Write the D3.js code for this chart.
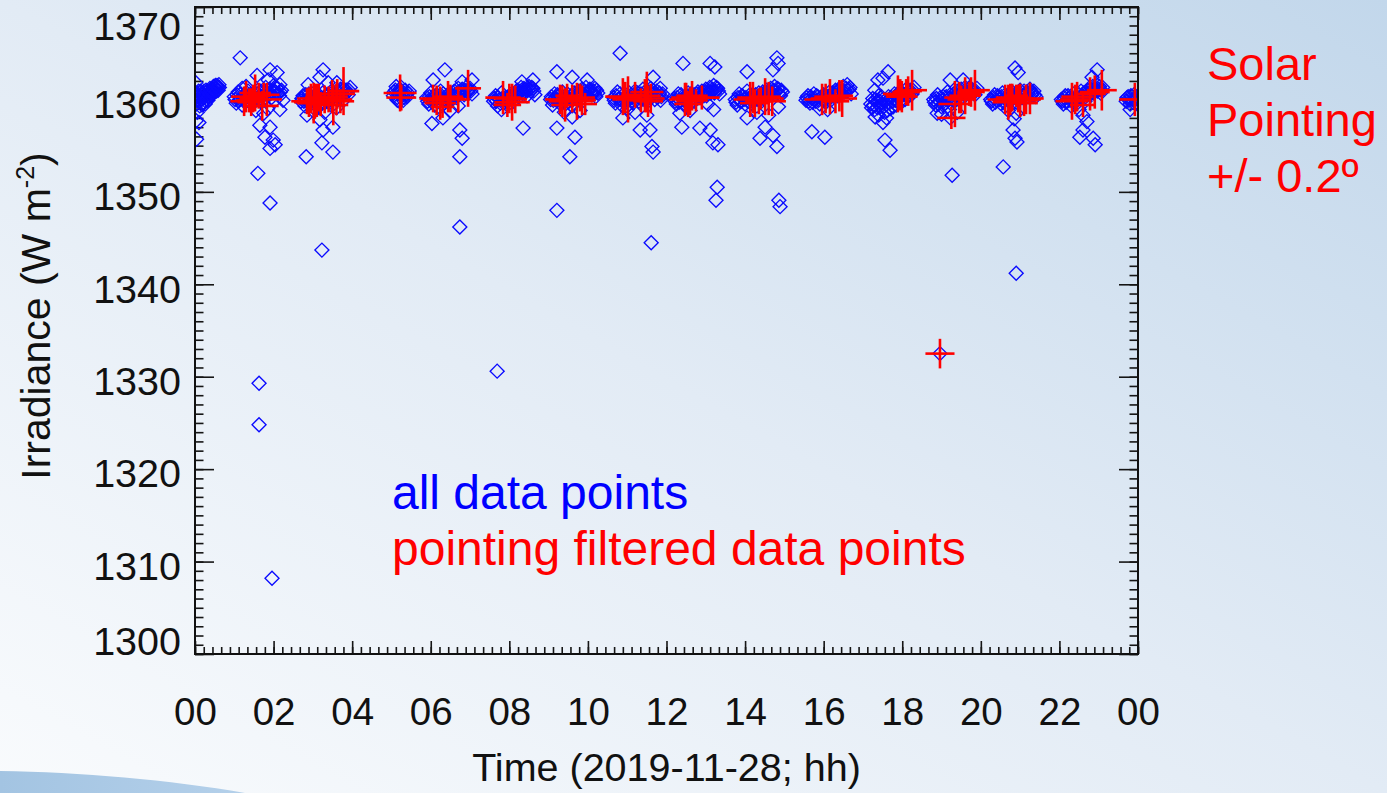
<!DOCTYPE html>
<html>
<head>
<meta charset="utf-8">
<script src="https://cdn.jsdelivr.net/npm/d3@7"></script>
<style>
  html, body { margin: 0; padding: 0; overflow: hidden; background: #eef3f9; }
  svg { display: block; }
  text { font-family: "Liberation Sans", Arial, Helvetica, sans-serif; }
</style>
</head>
<body>
<svg id="chart" width="1387" height="793"></svg>
<script>
// ---- axis ticks ----
const hourTicks = [0, 2, 4, 6, 8, 10, 12, 14, 16, 18, 20, 22, 24];
const hourTickLabels = ["00", "02", "04", "06", "08", "10", "12", "14", "16", "18", "20", "22", "00"];
const irradianceTicks = [1300, 1310, 1320, 1330, 1340, 1350, 1360, 1370];

// ---- all radiometer samples: [hour of day, irradiance W m-2] ----
const allPoints = [
  // 00:00 pass
  [0.01,1360.2],[0.03,1359.5],[0.05,1360.7],[0.07,1359.9],[0.10,1360.4],[0.12,1359.3],[0.14,1360.9],[0.17,1360.0],
  [0.19,1359.6],[0.21,1360.6],[0.24,1360.2],[0.26,1359.5],[0.28,1361.0],[0.31,1360.5],[0.33,1359.9],[0.36,1360.8],
  [0.38,1361.2],[0.41,1360.4],[0.44,1361.0],[0.47,1361.4],[0.50,1360.8],[0.53,1361.2],[0.56,1361.5],[0.59,1361.0],
  [0.62,1361.3],[0.02,1361.8],[0.06,1358.6],[0.03,1357.7],[0.10,1357.5],[0.04,1355.7],
  [0.02,1360.6],[0.04,1359.9],[0.06,1360.3],[0.09,1360.9],[0.11,1359.8],[0.13,1360.2],[0.16,1360.6],[0.18,1359.4],
  [0.20,1360.3],[0.23,1360.9],[0.25,1359.9],[0.27,1360.4],[0.30,1360.0],[0.32,1360.9],[0.35,1360.3],[0.37,1360.6],
  [0.40,1361.0],[0.43,1360.7],[0.46,1361.1],[0.49,1361.0],[0.52,1361.5],[0.55,1360.9],[0.58,1361.3],[0.61,1361.6],
  // 01:00 pass
  [1.00,1360.3],[1.05,1359.6],[1.10,1360.8],[1.15,1360.0],[1.20,1359.4],[1.25,1360.5],[1.30,1359.8],[1.35,1360.9],
  [1.40,1360.2],[1.45,1359.5],[1.50,1360.6],[1.55,1360.0],[1.60,1361.0],[1.65,1360.4],[1.70,1359.8],[1.75,1360.8],
  [1.80,1361.3],[1.85,1360.5],[1.90,1361.1],[1.95,1360.2],[2.00,1361.5],[2.05,1360.8],[2.10,1361.2],[2.15,1360.4],
  [2.20,1361.0],[1.30,1361.4],[1.55,1358.8],[1.75,1358.5],[1.85,1359.0],
  [1.02,1360.0],[1.07,1360.5],[1.12,1359.9],[1.17,1360.6],[1.22,1360.1],[1.27,1359.7],[1.32,1360.4],[1.37,1359.9],
  [1.42,1360.6],[1.47,1360.1],[1.52,1359.8],[1.57,1360.6],[1.62,1360.0],[1.67,1360.9],[1.72,1360.3],[1.77,1360.1],
  [1.82,1360.8],[1.87,1360.9],[1.92,1360.6],[1.97,1360.9],[2.02,1360.9],[2.07,1361.3],[2.12,1360.7],[2.17,1360.8],
  [1.15,1364.5],[1.58,1362.6],[1.91,1363.2],[2.09,1362.9],[2.16,1361.6],[1.20,1361.2],[1.86,1362.1],[2.24,1359.9],
  [2.16,1358.9],[1.65,1357.2],[1.91,1357.0],[1.78,1355.9],[1.99,1355.6],[1.91,1354.7],[2.04,1355.1],[1.60,1352.0],
  [1.63,1329.3],[1.63,1324.8],[1.91,1348.8],[1.96,1308.2],
  // 03:00 pass
  [2.70,1359.8],[2.75,1360.4],[2.80,1359.3],[2.85,1360.0],[2.90,1360.6],[2.95,1359.5],[3.00,1360.2],[3.05,1359.7],
  [3.10,1360.5],[3.15,1359.2],[3.20,1360.0],[3.25,1360.7],[3.30,1359.6],[3.35,1360.3],[3.40,1359.9],[3.45,1360.8],
  [3.50,1360.2],[3.55,1359.6],[3.60,1360.9],[3.65,1360.4],[3.70,1361.1],[3.75,1360.6],[3.80,1360.0],[3.85,1361.0],
  [3.90,1360.5],[3.95,1361.3],[3.00,1358.8],[3.30,1358.6],[3.60,1359.1],
  [2.72,1360.1],[2.77,1359.8],[2.82,1360.5],[2.87,1359.7],[2.92,1360.2],[2.97,1360.0],[3.02,1359.9],[3.07,1360.3],
  [3.12,1359.8],[3.17,1360.4],[3.22,1359.6],[3.27,1360.1],[3.32,1360.4],[3.37,1359.8],[3.42,1360.3],[3.47,1360.0],
  [3.52,1360.6],[3.57,1360.1],[3.62,1360.4],[3.67,1360.8],[3.72,1360.4],[3.77,1361.0],[3.82,1360.6],[3.87,1360.8],
  [3.92,1361.0],
  [3.26,1363.2],[3.18,1362.4],[2.88,1361.6],[3.39,1361.8],[3.61,1361.8],[3.77,1361.2],[2.85,1358.3],[3.18,1357.8],
  [3.26,1356.7],[3.23,1355.3],[3.51,1357.0],[3.51,1354.3],[2.83,1353.8],[3.23,1343.7],
  // 05:00 pass
  [5.05,1360.4],[5.10,1361.0],[5.15,1360.2],[5.20,1360.8],[5.25,1361.3],[5.30,1360.5],[5.35,1361.0],[5.40,1360.3],
  [5.45,1360.9],[5.20,1359.8],[5.30,1359.9],[5.12,1361.4],
  [5.07,1360.8],[5.17,1360.6],[5.22,1361.1],[5.27,1360.7],[5.32,1360.2],[5.37,1360.6],[5.42,1360.7],[5.15,1359.9],
  // 06:00 pass
  [5.90,1360.2],[5.95,1359.5],[6.00,1360.7],[6.05,1360.0],[6.10,1359.4],[6.15,1360.5],[6.20,1359.9],[6.25,1360.9],
  [6.30,1360.3],[6.35,1359.6],[6.40,1360.1],[6.45,1360.6],[6.50,1359.8],[6.55,1360.4],[6.60,1360.9],[6.65,1360.2],
  [6.70,1361.2],[6.75,1360.7],[6.80,1361.1],[6.85,1360.5],[6.90,1361.3],[6.95,1360.8],[7.00,1361.2],[7.05,1360.6],
  [6.50,1358.8],[6.70,1359.3],
  [5.92,1359.8],[5.97,1360.3],[6.02,1360.0],[6.07,1360.4],[6.12,1360.0],[6.17,1360.1],[6.22,1360.4],[6.27,1360.0],
  [6.32,1360.6],[6.37,1360.0],[6.42,1360.4],[6.47,1360.1],[6.52,1360.2],[6.57,1360.7],[6.62,1360.5],[6.67,1360.7],
  [6.72,1360.8],[6.77,1361.0],[6.82,1360.8],[6.87,1361.0],[6.92,1360.9],[6.97,1361.1],[7.02,1360.9],
  [6.36,1363.2],[6.06,1362.1],[6.80,1361.9],[7.05,1362.1],[6.03,1357.4],[6.31,1358.0],[6.74,1356.7],[6.80,1355.8],
  [6.74,1353.8],[6.18,1359.2],[6.74,1346.2],
  // 08:00 pass
  [7.60,1359.8],[7.65,1360.4],[7.70,1359.3],[7.75,1360.0],[7.80,1360.7],[7.85,1359.6],[7.90,1360.2],[7.95,1359.4],
  [8.00,1360.0],[8.05,1360.6],[8.10,1359.8],[8.15,1360.5],[8.20,1361.0],[8.25,1360.3],[8.30,1361.3],[8.35,1360.7],
  [8.40,1361.1],[8.45,1360.4],[8.50,1361.4],[8.55,1360.9],[8.60,1361.2],[8.65,1360.5],[7.80,1358.9],
  [7.62,1360.1],[7.67,1359.8],[7.72,1360.2],[7.77,1359.6],[7.82,1360.1],[7.87,1360.0],[7.92,1359.8],[7.97,1360.3],
  [8.02,1360.3],[8.07,1360.1],[8.12,1360.4],[8.17,1360.8],[8.22,1360.7],[8.27,1360.9],[8.32,1361.0],[8.37,1361.2],
  [8.42,1360.8],[8.47,1361.0],[8.52,1361.1],[8.57,1361.3],[8.62,1360.9],
  [8.35,1356.9],[8.32,1361.9],[8.60,1362.1],[7.69,1330.6],
  // 09:00 pass
  [9.05,1360.0],[9.10,1359.4],[9.15,1360.6],[9.20,1359.9],[9.25,1360.3],[9.30,1359.5],[9.35,1360.8],[9.40,1360.1],
  [9.45,1359.6],[9.50,1360.5],[9.55,1360.0],[9.60,1359.3],[9.65,1360.7],[9.70,1360.2],[9.75,1360.9],[9.80,1360.4],
  [9.85,1361.1],[9.90,1360.6],[9.95,1361.3],[10.00,1360.8],[10.05,1361.1],[10.10,1360.5],[10.15,1360.9],[10.20,1360.3],
  [10.25,1360.7],[9.40,1358.6],[9.60,1358.1],[9.80,1358.8],
  [9.07,1360.3],[9.12,1359.9],[9.17,1360.2],[9.22,1360.5],[9.27,1359.9],[9.32,1360.2],[9.37,1359.7],[9.42,1360.4],
  [9.47,1360.1],[9.52,1359.8],[9.57,1360.4],[9.62,1360.0],[9.67,1360.3],[9.72,1360.6],[9.77,1360.3],[9.82,1360.8],
  [9.87,1360.5],[9.92,1360.9],[9.97,1360.6],[10.02,1361.0],[10.07,1360.8],[10.12,1360.7],[10.17,1360.6],[10.22,1361.0],
  [9.21,1363.0],[9.60,1362.4],[9.98,1362.1],[9.21,1356.9],[9.67,1355.9],[9.54,1353.8],[10.18,1361.2],[9.21,1348.0],
  // 11:00 pass
  [10.65,1360.2],[10.70,1359.6],[10.75,1360.8],[10.80,1360.1],[10.85,1359.4],[10.90,1360.5],[10.95,1360.0],[11.00,1359.3],
  [11.05,1360.7],[11.10,1360.2],[11.15,1359.6],[11.20,1360.9],[11.25,1360.4],[11.30,1359.8],[11.35,1360.6],[11.40,1361.1],
  [11.45,1360.3],[11.50,1359.7],[11.55,1360.8],[11.60,1361.2],[11.65,1360.5],[11.70,1360.0],[11.75,1360.9],[11.80,1360.4],
  [11.85,1359.9],[11.90,1360.6],[11.20,1358.6],[11.50,1358.3],[11.00,1358.9],
  [10.67,1359.9],[10.72,1360.4],[10.77,1360.0],[10.82,1360.6],[10.87,1359.9],[10.92,1360.2],[10.97,1359.7],[11.02,1360.1],
  [11.07,1360.3],[11.12,1359.9],[11.17,1360.5],[11.22,1360.1],[11.27,1360.7],[11.32,1360.2],[11.37,1360.0],[11.42,1360.7],
  [11.47,1360.0],[11.52,1360.4],[11.57,1360.2],[11.62,1360.8],[11.67,1360.9],[11.72,1360.5],[11.77,1360.2],[11.82,1360.7],
  [11.87,1360.3],
  [10.82,1365.0],[11.66,1362.4],[11.84,1361.2],[10.89,1358.0],[11.33,1356.7],[11.58,1356.7],[11.63,1354.9],[11.66,1354.3],
  [11.61,1344.5],
  // 12:30 pass
  [12.20,1360.1],[12.25,1359.5],[12.30,1360.6],[12.35,1359.9],[12.40,1360.3],[12.45,1359.4],[12.50,1360.0],[12.55,1360.7],
  [12.60,1360.2],[12.65,1359.7],[12.70,1360.5],[12.75,1360.0],[12.80,1360.8],[12.85,1360.3],[12.90,1360.9],[12.95,1360.4],
  [13.00,1361.1],[13.05,1360.6],[13.10,1361.3],[13.15,1360.8],[13.20,1361.5],[13.25,1360.9],[13.30,1361.2],[13.35,1360.6],
  [13.05,1359.5],[13.20,1358.9],[12.60,1358.8],
  [12.22,1359.8],[12.27,1360.2],[12.32,1359.7],[12.37,1360.5],[12.42,1360.0],[12.47,1359.8],[12.52,1360.4],[12.57,1360.1],
  [12.62,1360.6],[12.67,1360.2],[12.72,1360.1],[12.77,1360.6],[12.82,1360.2],[12.87,1360.7],[12.92,1360.5],[12.97,1360.8],
  [13.02,1360.4],[13.07,1360.9],[13.12,1360.7],[13.17,1361.1],[13.22,1360.7],[13.27,1361.3],[13.32,1360.9],
  [12.42,1363.9],[13.11,1363.9],[13.23,1363.5],[12.34,1358.5],[12.39,1357.0],[12.85,1356.9],[13.11,1356.7],[13.18,1355.3],
  [13.31,1355.1],[13.29,1350.5],[13.26,1349.1],
  // 14:00 pass
  [13.75,1360.0],[13.80,1359.4],[13.85,1360.6],[13.90,1359.8],[13.95,1360.3],[14.00,1359.5],[14.05,1360.9],[14.10,1360.1],
  [14.15,1359.6],[14.20,1360.5],[14.25,1360.0],[14.30,1359.3],[14.35,1360.7],[14.40,1360.2],[14.45,1360.8],[14.50,1360.3],
  [14.55,1361.0],[14.60,1360.5],[14.65,1361.2],[14.70,1360.7],[14.75,1361.4],[14.80,1360.9],[14.85,1361.1],[14.90,1360.4],
  [14.95,1360.8],[14.30,1358.6],[14.60,1358.3],[14.85,1359.2],
  [13.77,1359.7],[13.82,1360.2],[13.87,1359.8],[13.92,1360.4],[13.97,1360.0],[14.02,1360.2],[14.07,1359.8],[14.12,1360.5],
  [14.17,1360.2],[14.22,1359.8],[14.27,1360.5],[14.32,1360.1],[14.37,1360.0],[14.42,1360.6],[14.47,1360.1],[14.52,1360.7],
  [14.57,1360.4],[14.62,1360.9],[14.67,1360.5],[14.72,1361.0],[14.77,1360.8],[14.82,1361.2],[14.87,1360.6],[14.92,1361.0],
  [14.05,1363.0],[14.81,1364.5],[14.84,1363.9],[14.71,1363.2],[14.05,1358.0],[14.38,1355.8],[14.71,1356.1],[14.81,1354.9],
  [14.51,1357.0],[14.86,1349.1],[14.89,1348.4],
  // 16:00 pass
  [15.55,1359.9],[15.60,1360.4],[15.65,1359.6],[15.70,1360.1],[15.75,1360.6],[15.80,1359.8],[15.85,1360.3],[15.90,1359.5],
  [15.95,1360.0],[16.00,1360.5],[16.05,1359.7],[16.10,1360.2],[16.15,1360.8],[16.20,1360.0],[16.25,1360.6],[16.30,1361.0],
  [16.35,1360.4],[16.40,1361.2],[16.45,1360.7],[16.50,1361.4],[16.55,1360.9],[16.60,1361.6],[16.65,1361.1],[16.70,1360.6],
  [15.90,1359.0],[16.10,1358.9],
  [15.57,1360.2],[15.62,1359.8],[15.67,1360.3],[15.72,1359.7],[15.77,1360.1],[15.82,1360.4],[15.87,1359.9],[15.92,1360.2],
  [15.97,1360.4],[16.02,1360.1],[16.07,1360.4],[16.12,1360.0],[16.17,1360.4],[16.22,1360.7],[16.27,1360.3],[16.32,1360.7],
  [16.37,1360.9],[16.42,1360.5],[16.47,1361.0],[16.52,1360.8],[16.57,1361.2],[16.62,1361.0],[16.67,1361.3],
  [15.70,1356.5],[16.03,1355.9],
  // 17:30 pass
  [17.20,1359.5],[17.25,1360.1],[17.30,1358.9],[17.35,1359.7],[17.40,1360.4],[17.45,1359.2],[17.50,1360.0],[17.55,1358.6],
  [17.60,1359.5],[17.65,1360.3],[17.70,1359.0],[17.75,1359.8],[17.80,1360.6],[17.85,1359.4],[17.90,1360.2],[17.95,1360.9],
  [18.00,1359.8],[18.05,1360.5],[18.10,1361.1],[18.15,1360.4],[18.20,1361.0],[18.25,1360.6],[18.30,1361.3],[17.40,1358.3],
  [17.60,1358.0],[17.30,1361.0],
  [17.22,1359.1],[17.27,1359.4],[17.32,1360.0],[17.37,1359.1],[17.42,1359.8],[17.47,1360.3],[17.52,1359.2],[17.57,1359.9],
  [17.62,1358.8],[17.67,1359.6],[17.72,1360.2],[17.77,1359.2],[17.82,1359.9],[17.87,1360.5],[17.92,1359.7],[17.97,1360.3],
  [18.02,1360.6],[18.07,1360.0],[18.12,1360.7],[18.17,1360.9],[18.22,1360.5],[18.27,1361.0],
  [17.38,1362.1],[17.64,1363.0],[17.51,1362.3],[17.31,1358.1],[17.56,1355.6],[17.69,1354.5],[17.51,1357.5],
  // 19:00 pass
  [18.80,1360.0],[18.85,1359.4],[18.90,1360.5],[18.95,1359.8],[19.00,1359.2],[19.05,1360.3],[19.10,1359.6],[19.15,1360.8],
  [19.20,1360.1],[19.25,1359.5],[19.30,1360.6],[19.35,1360.0],[19.40,1360.9],[19.45,1360.4],[19.50,1361.1],[19.55,1360.6],
  [19.60,1361.3],[19.65,1360.8],[19.70,1361.2],[19.75,1360.7],[19.80,1361.0],[19.85,1360.5],[19.90,1361.2],[19.20,1358.9],
  [19.40,1358.6],[19.00,1358.4],
  [18.82,1359.7],[18.87,1360.1],[18.92,1359.5],[18.97,1360.2],[19.02,1359.9],[19.07,1359.5],[19.12,1360.3],[19.17,1360.0],
  [19.22,1360.5],[19.27,1360.0],[19.32,1359.8],[19.37,1360.5],[19.42,1360.2],[19.47,1360.7],[19.52,1360.3],[19.57,1360.9],
  [19.62,1360.5],[19.67,1361.0],[19.72,1360.8],[19.77,1361.1],[19.82,1360.8],[19.87,1360.9],
  [19.22,1362.1],[19.55,1362.1],[18.89,1358.5],[19.22,1358.0],[18.96,1332.5],[19.27,1351.8],
  // 20:30 pass
  [20.25,1360.0],[20.30,1359.5],[20.35,1360.5],[20.40,1359.9],[20.45,1360.3],[20.50,1359.6],[20.55,1360.7],[20.60,1360.1],
  [20.65,1359.4],[20.70,1360.5],[20.75,1360.0],[20.80,1360.8],[20.85,1360.3],[20.90,1359.7],[20.95,1360.6],[21.00,1361.0],
  [21.05,1360.4],[21.10,1360.9],[21.15,1360.2],[21.20,1360.7],[21.25,1361.1],[21.30,1360.5],[21.35,1360.9],[21.40,1360.3],
  [20.70,1358.8],[20.90,1358.5],[20.85,1357.9],
  [20.27,1359.8],[20.32,1360.2],[20.37,1359.7],[20.42,1360.4],[20.47,1360.0],[20.52,1360.3],[20.57,1359.9],[20.62,1360.5],
  [20.67,1360.0],[20.72,1359.8],[20.77,1360.5],[20.82,1360.1],[20.87,1360.6],[20.92,1360.2],[20.97,1360.0],[21.02,1360.6],
  [21.07,1360.2],[21.12,1360.5],[21.17,1360.8],[21.22,1360.3],[21.27,1360.8],[21.32,1360.7],[21.37,1360.5],
  [20.87,1363.4],[20.95,1362.9],[20.82,1356.7],[20.87,1355.8],[20.92,1355.4],[20.57,1352.7],[20.90,1341.2],
  // 22:00 pass
  [22.05,1360.0],[22.10,1359.5],[22.15,1360.4],[22.20,1359.8],[22.25,1360.2],[22.30,1359.3],[22.35,1360.6],[22.40,1360.0],
  [22.45,1359.6],[22.50,1360.5],[22.55,1360.9],[22.60,1360.3],[22.65,1359.8],[22.70,1360.7],[22.75,1361.2],[22.80,1360.6],
  [22.85,1361.4],[22.90,1360.9],[22.95,1361.6],[23.00,1361.1],[23.05,1360.7],[23.10,1361.3],[22.50,1358.9],[22.60,1358.3],
  [22.70,1357.6],
  [22.07,1359.8],[22.12,1360.2],[22.17,1359.7],[22.22,1360.4],[22.27,1359.9],[22.32,1360.1],[22.37,1359.7],[22.42,1360.3],
  [22.47,1360.0],[22.52,1360.1],[22.57,1360.4],[22.62,1360.7],[22.67,1360.3],[22.72,1361.0],[22.77,1360.5],[22.82,1361.0],
  [22.87,1360.7],[22.92,1361.2],[22.97,1360.9],[23.02,1361.4],[23.07,1361.0],
  [22.96,1363.2],[22.83,1362.4],[22.52,1355.9],[22.86,1355.8],[22.91,1355.1],[22.60,1356.7],
  // 23:40 pass
  [23.70,1359.8],[23.75,1360.3],[23.80,1359.5],[23.85,1360.0],[23.90,1360.5],[23.95,1359.7],[24.00,1360.2],[23.80,1358.9],
  [23.72,1360.2],[23.77,1359.9],[23.82,1360.4],[23.87,1359.7],[23.92,1360.1],[23.97,1360.3]
];

// ---- samples kept by the +/- 0.2 deg pointing filter:
//      [hour, irradiance, hour half-span, irradiance half-span] ----
const filteredPoints = [
  [1.30,1360.3,0.38,1.7],[1.43,1359.7,0.35,1.5],[1.53,1360.7,0.40,2.0],[1.71,1359.3,0.42,1.6],[1.83,1360.0,0.38,1.8],
  [1.62,1360.4,0.30,1.4],[1.38,1359.9,0.33,1.3],[1.48,1360.1,0.35,1.5],[1.75,1360.5,0.40,1.3],[1.25,1359.8,0.35,1.6],
  [2.85,1359.8,0.40,1.4],[2.95,1360.1,0.35,1.6],[3.02,1359.6,0.42,2.2],[3.10,1359.9,0.30,1.8],[3.20,1359.5,0.35,1.3],
  [3.30,1360.0,0.30,1.5],[3.49,1360.3,0.40,1.8],[3.52,1359.4,0.38,2.2],[3.62,1360.6,0.45,1.6],[3.78,1360.9,0.40,2.6],
  [3.70,1359.8,0.35,1.3],[2.90,1359.7,0.38,1.6],[3.05,1359.8,0.40,1.9],[3.15,1360.2,0.35,1.5],[3.40,1360.0,0.30,1.4],
  [3.60,1360.0,0.40,1.7],
  [5.22,1360.7,0.42,2.0],[5.25,1360.2,0.38,1.4],
  [6.06,1360.1,0.35,1.5],[6.24,1359.6,0.40,1.8],[6.44,1360.3,0.38,1.7],[6.30,1359.2,0.30,1.2],[6.95,1361.2,0.33,2.0],
  [6.70,1360.0,0.30,1.4],[6.15,1359.9,0.35,1.6],[6.50,1360.1,0.35,1.5],
  [7.84,1360.2,0.45,1.8],[8.07,1359.7,0.45,2.0],[7.95,1359.4,0.35,1.3],[8.15,1360.0,0.30,1.5],[8.00,1360.1,0.40,1.6],
  [9.29,1360.0,0.38,1.6],[9.42,1359.4,0.35,1.8],[9.47,1360.4,0.30,1.3],[9.72,1359.8,0.42,2.0],[9.80,1360.2,0.38,1.5],
  [9.93,1359.5,0.30,1.2],[9.35,1359.8,0.35,1.7],[9.60,1360.1,0.40,1.5],[9.85,1359.9,0.35,1.6],
  [10.89,1360.3,0.45,2.0],[11.02,1360.0,0.40,2.5],[11.50,1360.8,0.42,2.2],[11.53,1359.8,0.38,1.7],[11.20,1360.5,0.35,1.4],
  [11.35,1359.9,0.30,1.3],[10.95,1360.2,0.40,1.7],[11.45,1360.4,0.40,1.8],[11.60,1360.1,0.35,1.6],
  [12.47,1360.0,0.40,1.8],[12.55,1359.5,0.35,1.4],[12.65,1360.4,0.40,1.6],[12.90,1360.2,0.45,1.3],[12.75,1359.9,0.30,1.2],
  [12.50,1360.2,0.38,1.6],[12.60,1359.8,0.35,1.5],
  [14.13,1360.0,0.42,1.9],[14.25,1359.6,0.38,1.5],[14.51,1360.3,0.40,2.0],[14.69,1359.8,0.35,1.6],[14.40,1360.1,0.30,1.2],
  [14.20,1360.2,0.40,1.7],[14.60,1360.1,0.38,1.8],[14.35,1359.8,0.35,1.4],
  [15.96,1360.0,0.45,1.7],[16.16,1360.3,0.40,1.9],[16.47,1360.1,0.38,2.0],[16.30,1359.8,0.35,1.3],[16.05,1360.1,0.38,1.6],
  [16.40,1360.4,0.35,1.7],
  [17.89,1360.6,0.38,2.0],[17.99,1360.3,0.40,1.7],[18.25,1361.0,0.38,2.2],[18.10,1360.8,0.35,1.4],[17.95,1360.5,0.38,1.7],
  [18.15,1360.9,0.35,1.6],
  [19.34,1359.5,0.42,2.5],[19.60,1360.4,0.40,2.0],[19.85,1361.0,0.38,2.2],[19.25,1358.0,0.36,1.2],[19.50,1360.0,0.35,1.5],
  [19.70,1360.6,0.30,1.3],[19.45,1360.2,0.38,1.7],[19.75,1360.8,0.35,1.6],[18.96,1332.5,0.37,1.6],
  [20.62,1360.0,0.45,1.6],[20.70,1359.7,0.40,1.9],[20.80,1360.2,0.42,1.5],[21.00,1359.9,0.45,1.8],[21.25,1360.1,0.35,1.7],
  [20.90,1360.4,0.30,1.2],[21.10,1359.6,0.35,1.4],[20.75,1360.0,0.42,1.7],[20.95,1360.1,0.40,1.5],[21.15,1360.0,0.38,1.6],
  [22.32,1359.8,0.42,2.0],[22.45,1360.3,0.40,1.6],[22.78,1360.6,0.40,1.8],[23.08,1361.0,0.38,2.2],[22.60,1359.4,0.33,1.3],
  [22.40,1360.0,0.38,1.6],[22.90,1360.8,0.38,1.8],
  [23.92,1360.0,0.40,1.8]
];

// ---- layout ----
const W = 1387, H = 793;
const plot = { left: 195, right: 1138, top: 7, bottom: 654 };
const svg = d3.select("#chart");

// page background
const defs = svg.append("defs");
const bg = defs.append("linearGradient").attr("id", "bgGrad")
  .attr("x1", "1").attr("y1", "0").attr("x2", "0").attr("y2", "1");
bg.append("stop").attr("offset", "0").attr("stop-color", "#c2d7eb");
bg.append("stop").attr("offset", "0.5").attr("stop-color", "#e2ebf5");
bg.append("stop").attr("offset", "1").attr("stop-color", "#f9fbfd");
svg.append("rect").attr("width", W).attr("height", H).attr("fill", "url(#bgGrad)");

const swoosh = defs.append("linearGradient").attr("id", "swooshGrad")
  .attr("x1", "0").attr("y1", "0").attr("x2", "1").attr("y2", "0");
swoosh.append("stop").attr("offset", "0").attr("stop-color", "#a3c4e2");
swoosh.append("stop").attr("offset", "1").attr("stop-color", "#b4d0ea");
svg.append("path")
  .attr("d", "M0,771 C80,772 170,780 245,793 L0,793 Z")
  .attr("fill", "url(#swooshGrad)");

defs.append("clipPath").attr("id", "plotClip")
  .append("rect")
  .attr("x", plot.left).attr("y", plot.top)
  .attr("width", plot.right - plot.left).attr("height", plot.bottom - plot.top);

// scales
const x = d3.scaleLinear().domain([0, 24]).range([plot.left, plot.right]);
const y = d3.scaleLinear().domain([1300, 1370]).range([plot.bottom, plot.top]);

const xMinor = d3.range(0, 109).map(i => i * 2 / 9);
const yMinor = d3.range(1300, 1371);

function styleTicks(g) {
  g.select(".domain").remove();
  g.selectAll(".tick line").attr("stroke", "#151515").attr("stroke-width", 1.6);
}

// bottom axis: minor + major ticks pointing inward, labels below
svg.append("g").attr("transform", `translate(0,${plot.bottom})`)
  .call(d3.axisBottom(x).tickValues(xMinor).tickSize(-7).tickFormat(""))
  .call(styleTicks);
const xAxisG = svg.append("g").attr("transform", `translate(0,${plot.bottom})`)
  .call(d3.axisBottom(x).tickValues(hourTicks).tickSize(-13).tickPadding(44)
    .tickFormat((d, i) => hourTickLabels[i]))
  .call(styleTicks);
xAxisG.selectAll(".tick text").attr("font-size", 38.5).attr("fill", "#111")
  .attr("font-family", "'Liberation Sans', Arial, sans-serif");

// top axis (ticks only)
svg.append("g").attr("transform", `translate(0,${plot.top})`)
  .call(d3.axisTop(x).tickValues(xMinor).tickSize(-7).tickFormat(""))
  .call(styleTicks);
svg.append("g").attr("transform", `translate(0,${plot.top})`)
  .call(d3.axisTop(x).tickValues(hourTicks).tickSize(-13).tickFormat(""))
  .call(styleTicks);

// left axis
svg.append("g").attr("transform", `translate(${plot.left},0)`)
  .call(d3.axisLeft(y).tickValues(yMinor).tickSize(-8.5).tickFormat(""))
  .call(styleTicks);
const yAxisG = svg.append("g").attr("transform", `translate(${plot.left},0)`)
  .call(d3.axisLeft(y).tickValues(irradianceTicks).tickSize(-19).tickPadding(14)
    .tickFormat(d3.format("d")))
  .call(styleTicks);
yAxisG.selectAll(".tick text")
  .attr("font-size", 39.5).attr("fill", "#111")
  .attr("font-family", "'Liberation Sans', Arial, sans-serif")
  .attr("dy", "0.35em")
  // keep the end labels inside the frame height
  .attr("y", d => Math.max(plot.top + 19, Math.min(plot.bottom - 13, y(d) + 4)) - y(d));

// right axis (ticks only)
svg.append("g").attr("transform", `translate(${plot.right},0)`)
  .call(d3.axisRight(y).tickValues(yMinor).tickSize(-8.5).tickFormat(""))
  .call(styleTicks);
svg.append("g").attr("transform", `translate(${plot.right},0)`)
  .call(d3.axisRight(y).tickValues(irradianceTicks).tickSize(-19).tickFormat(""))
  .call(styleTicks);

// data layer
const dataG = svg.append("g").attr("clip-path", "url(#plotClip)");

const diamond = d3.symbol().type(d3.symbolSquare).size(98);
dataG.append("g").selectAll("path")
  .data(allPoints)
  .join("path")
  .attr("d", diamond)
  .attr("transform", d => `translate(${x(d[0])},${y(d[1])}) rotate(45)`)
  .attr("fill", "none")
  .attr("stroke", "#0a0aff")
  .attr("stroke-width", 1.35);

const crosses = dataG.append("g").attr("stroke", "#ff0000").attr("stroke-width", 2.6);
crosses.selectAll("line.h")
  .data(filteredPoints)
  .join("line").attr("class", "h")
  .attr("x1", d => x(d[0] - d[2])).attr("x2", d => x(d[0] + d[2]))
  .attr("y1", d => y(d[1])).attr("y2", d => y(d[1]));
crosses.selectAll("line.v")
  .data(filteredPoints)
  .join("line").attr("class", "v")
  .attr("x1", d => x(d[0])).attr("x2", d => x(d[0]))
  .attr("y1", d => y(d[1] - d[3])).attr("y2", d => y(d[1] + d[3]));

// frame
svg.append("rect")
  .attr("x", plot.left).attr("y", plot.top)
  .attr("width", plot.right - plot.left).attr("height", plot.bottom - plot.top)
  .attr("fill", "none").attr("stroke", "#111").attr("stroke-width", 2);

// axis titles
svg.append("text")
  .attr("x", (plot.left + plot.right) / 2).attr("y", 781)
  .attr("text-anchor", "middle").attr("font-size", 39.5).attr("fill", "#111")
  .text("Time (2019-11-28; hh)");

const yTitle = svg.append("text")
  .attr("transform", "translate(50,316) rotate(-90)")
  .attr("text-anchor", "middle").attr("font-size", 41).attr("fill", "#111");
yTitle.append("tspan").text("Irradiance (W m");
yTitle.append("tspan").attr("font-size", 25).attr("dy", -16).text("-2");
yTitle.append("tspan").attr("dy", 16).text(")");

// legend
svg.append("text").attr("x", 392).attr("y", 509)
  .attr("font-size", 48).attr("fill", "#0000ff").text("all data points");
svg.append("text").attr("x", 392).attr("y", 565)
  .attr("font-size", 48).attr("fill", "#ff0000").text("pointing filtered data points");

// filter annotation
const note = svg.append("text").attr("font-size", 47).attr("fill", "#ff0000");
note.append("tspan").attr("x", 1207).attr("y", 80).text("Solar");
note.append("tspan").attr("x", 1207).attr("y", 136).text("Pointing");
note.append("tspan").attr("x", 1207).attr("y", 192).text("+/- 0.2º");
</script>
</body>
</html>
